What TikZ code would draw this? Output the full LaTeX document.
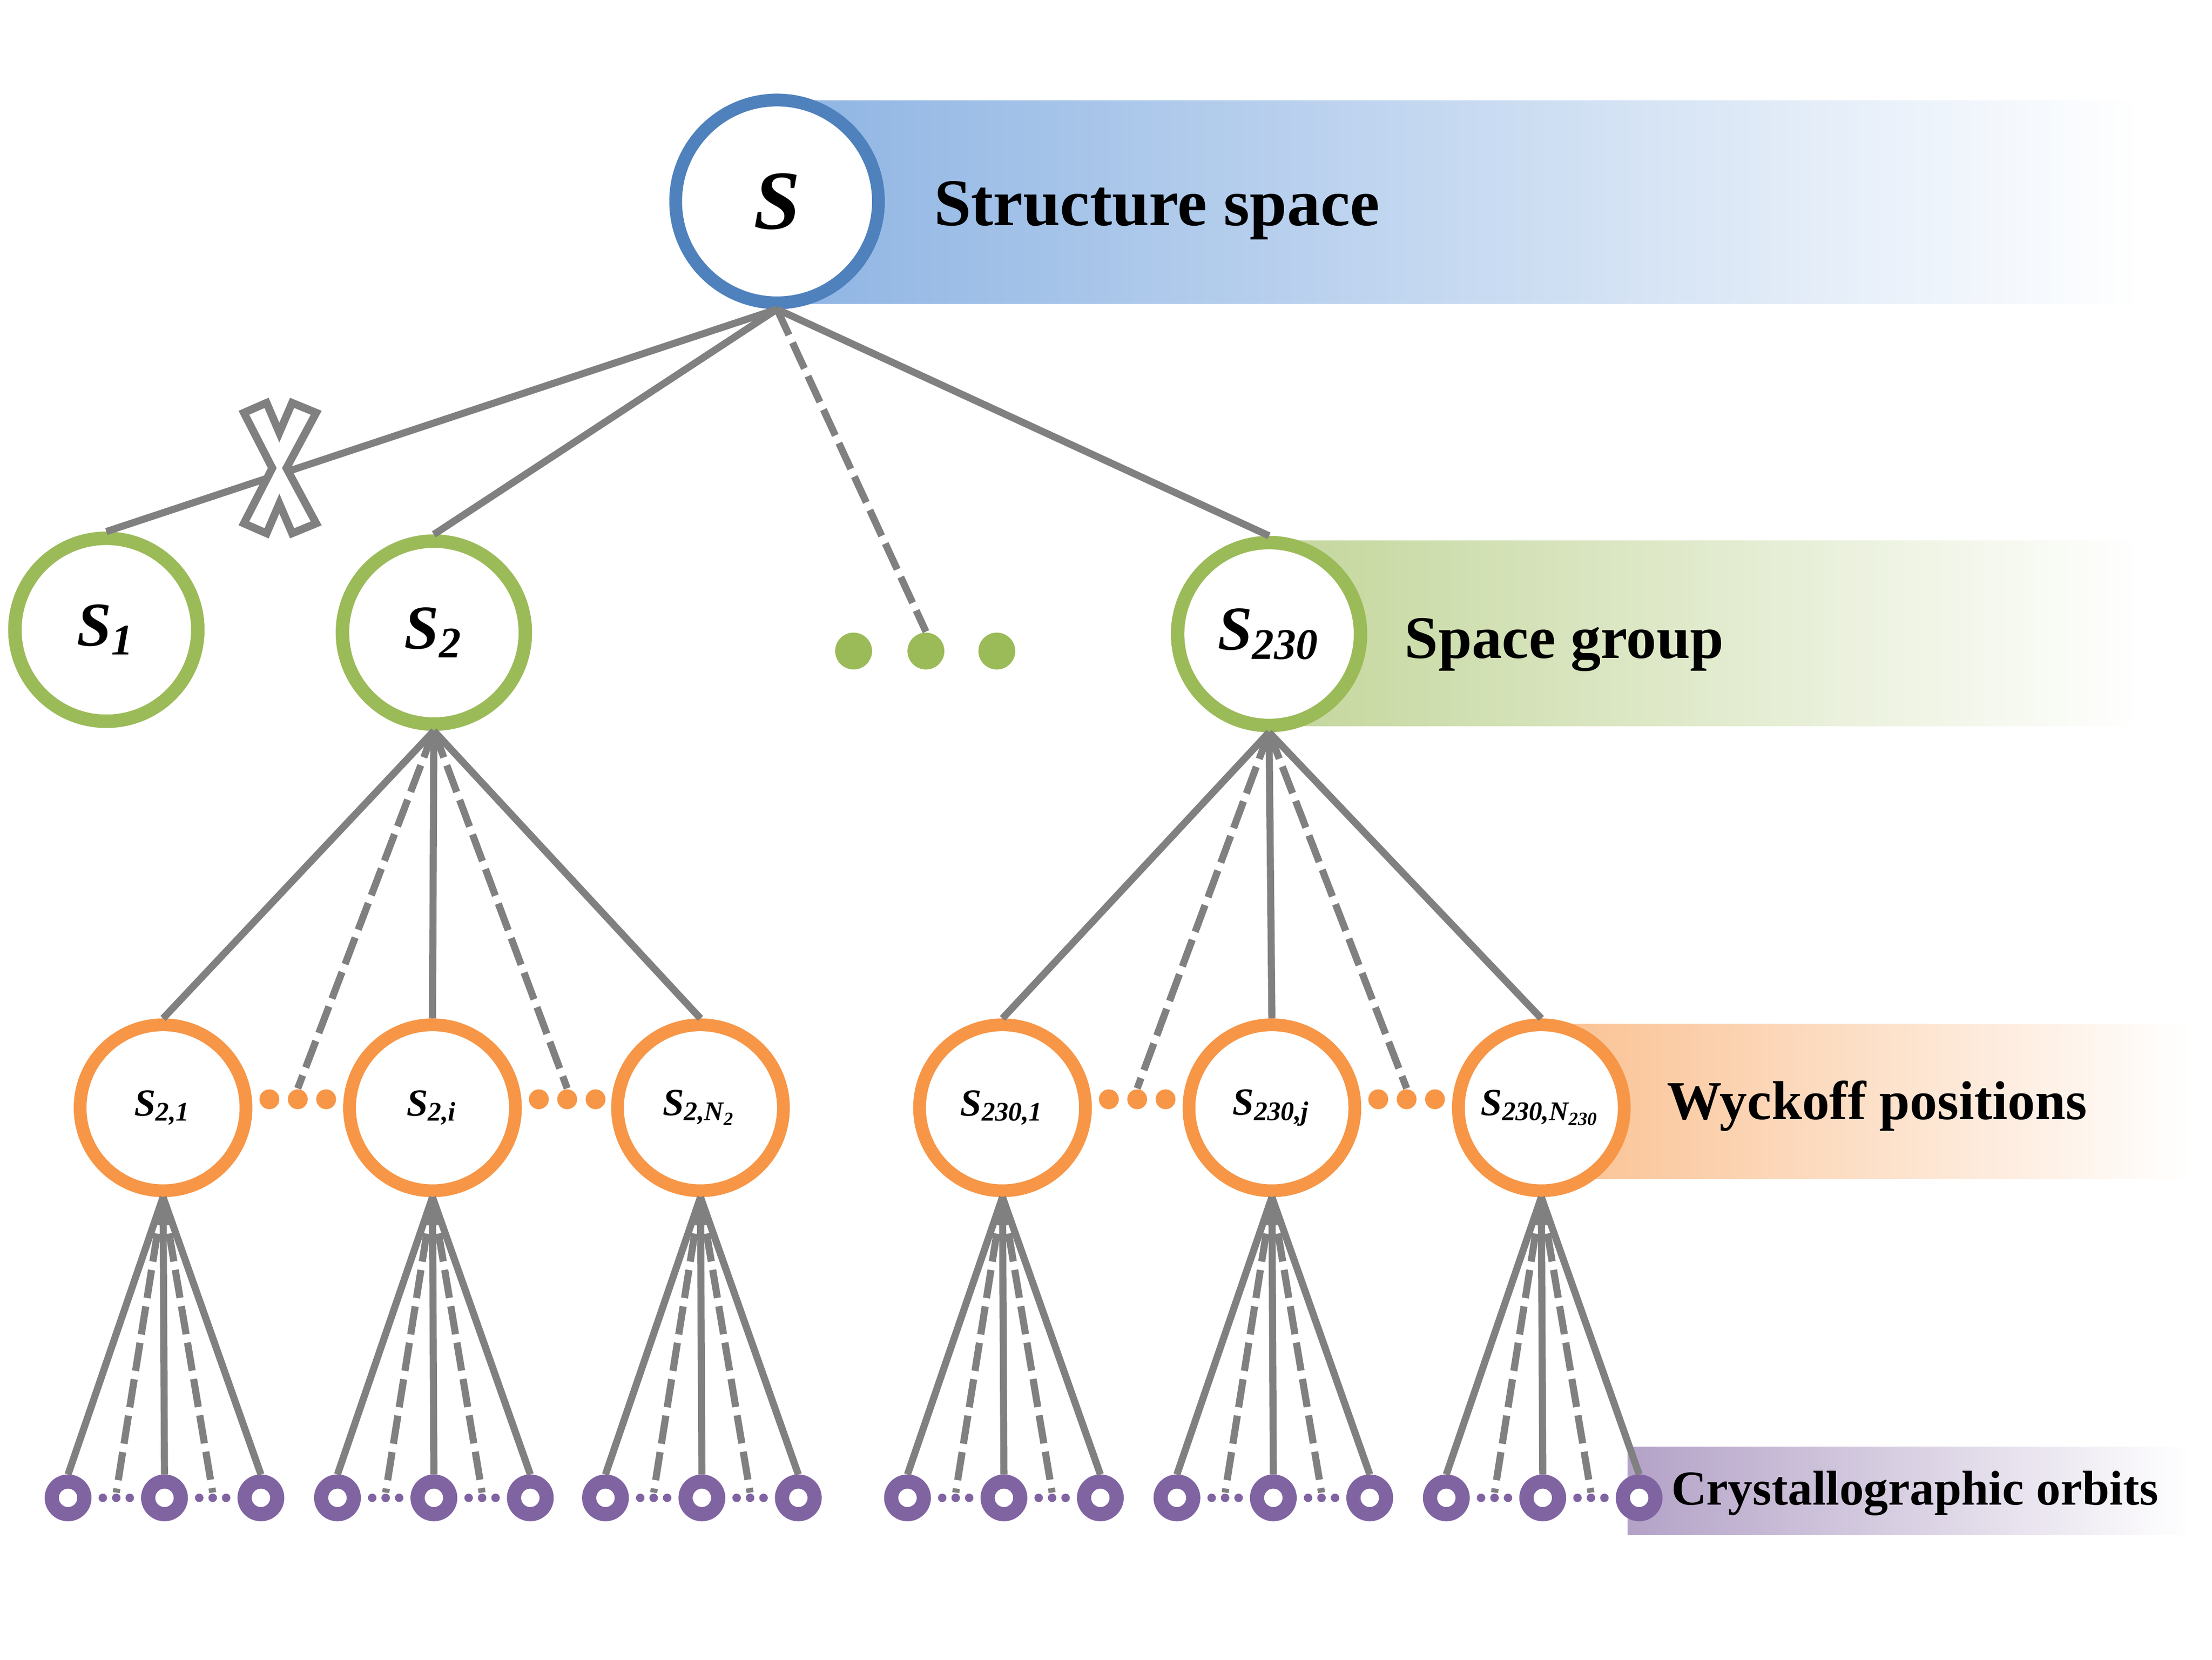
\documentclass[tikz,border=0pt]{standalone}
\usepackage{fontspec}
\setmainfont{Liberation Serif}
\usetikzlibrary{positioning}
\definecolor{structblue}{HTML}{4F81BD}
\definecolor{structband}{HTML}{8EB4E3}
\definecolor{groupgreen}{HTML}{9BBB59}
\definecolor{groupband}{HTML}{C3D69B}
\definecolor{wyckorange}{HTML}{F79646}
\definecolor{wyckband}{HTML}{FAC090}
\definecolor{orbitpurple}{HTML}{8064A2}
\definecolor{orbitband}{HTML}{B3A2C7}
\definecolor{linkgray}{HTML}{808080}

\begin{document}
\begin{tikzpicture}[
    x=0.1mm, y=-0.1mm,
    every node/.style={font=\bfseries},
    space/.style={circle, draw=structblue, line width=0.9mm, fill=white, minimum size=14.3mm, inner sep=0pt, font=\fontsize{16.8}{20}\selectfont\bfseries\itshape},
    group/.style={circle, draw=groupgreen, line width=0.95mm, fill=white, minimum size=12.9mm, inner sep=0pt, font=\fontsize{12.5}{15}\selectfont\bfseries\itshape},
    wyck/.style={circle, draw=wyckorange, line width=0.9mm, fill=white, minimum size=11.7mm, inner sep=0pt, font=\fontsize{7.7}{9}\selectfont\bfseries\itshape},
    orbit/.style={circle, draw=orbitpurple, line width=1mm, fill=white, minimum size=2.3mm, inner sep=0pt},
    gdot/.style={circle, fill=groupgreen, minimum size=2.6mm, inner sep=0pt},
    odot/.style={circle, fill=wyckorange, minimum size=1.4mm, inner sep=0pt},
    pdot/.style={circle, fill=orbitpurple, minimum size=0.6mm, inner sep=0pt},
    link/.style={draw=linkgray, line width=0.5mm},
    dlink/.style={link, dash pattern=on 2mm off 0.6mm},
    bandlabel/.style={anchor=base west, inner sep=0pt},
]
\useasboundingbox (0,0) rectangle (1560,1170);

% Bands
\shade[left color=structband, right color=white] (548,71) rectangle (1511,214);
\shade[left color=groupband, right color=white] (895,381) rectangle (1511,512);
\shade[left color=wyckband, right color=white] (1087,722) rectangle (1545,831);
\shade[left color=orbitband, right color=white] (1148,1020) rectangle (1545,1082);

% --- STRUCTURE SPACE ---
\node[space] (root) at (548,142) {S};
\node[bandlabel, font=\fontsize{13.4}{16}\selectfont\bfseries] (lbl_struct) at (658,159) {Structure space};

% --- SPACE GROUPS ---
\node[group] (s1) at (75,444) {S\textsubscript{1}};
\node[group] (s2) at (306,446) {S\textsubscript{2}};
\node[gdot] (gd1) at (602,459) {};
\node[gdot] (gd2) at (653,459) {};
\node[gdot] (gd3) at (703,459) {};
\node[group] (s230) at (895,447) {S\textsubscript{230}};
\node[bandlabel, font=\fontsize{12.1}{15}\selectfont\bfseries] (lbl_group) at (990,464) {Space group};

% --- WYCKOFF POSITIONS ---
\node[wyck] (w2_1) at (115,781) {S\textsubscript{2,1}};
\node[odot] (od1) at (190,775) {};
\node[odot] (od2) at (210,775) {};
\node[odot] (od3) at (230,775) {};
\node[wyck] (w2_i) at (305,781) {S\textsubscript{2,i}};
\node[odot] (od4) at (380,775) {};
\node[odot] (od5) at (400,775) {};
\node[odot] (od6) at (420,775) {};
\node[wyck] (w2_n) at (494,781) {S\textsubscript{2,N\textsubscript{2}}};

\node[wyck] (w230_1) at (707,781) {S\textsubscript{230,1}};
\node[odot] (od7) at (782,775) {};
\node[odot] (od8) at (802,775) {};
\node[odot] (od9) at (822,775) {};
\node[wyck] (w230_j) at (897,781) {S\textsubscript{230,j}};
\node[odot] (od10) at (972,775) {};
\node[odot] (od11) at (992,775) {};
\node[odot] (od12) at (1012,775) {};
\node[wyck] (w230_n) at (1087,781) {S\textsubscript{230,N\textsubscript{230}}};
\node[bandlabel, font=\fontsize{11}{13}\selectfont\bfseries] (lbl_wyck) at (1175,789) {Wyckoff positions};

% --- CRYSTALLOGRAPHIC ORBITS ---
\foreach \w/\x in {w2_1/115, w2_i/305, w2_n/494, w230_1/707, w230_j/897, w230_n/1087} {
    \node[orbit] (\w_a) at (\x-67,1056) {};
    \node[orbit] (\w_b) at (\x+1,1056) {};
    \node[orbit] (\w_c) at (\x+69,1056) {};
    \node[pdot] (\w_p1) at (\x-42.5,1056) {};
    \node[pdot] (\w_p2) at (\x-33,1056) {};
    \node[pdot] (\w_p3) at (\x-23.5,1056) {};
    \node[pdot] (\w_p4) at (\x+25.5,1056) {};
    \node[pdot] (\w_p5) at (\x+35,1056) {};
    \node[pdot] (\w_p6) at (\x+44.5,1056) {};
    \draw[link] (\w.south) -- (\w_a.north);
    \draw[dlink] (\w.south) -- (\w_p2.north);
    \draw[link] (\w.south) -- (\w_b.north);
    \draw[dlink] (\w.south) -- (\w_p5.north);
    \draw[link] (\w.south) -- (\w_c.north);
}
\node[bandlabel, font=\fontsize{9.8}{12}\selectfont\bfseries] (lbl_orbit) at (1178,1061) {Crystallographic orbits};

% Links from structure space
\draw[link] (root.south) -- (s1.north);
\draw[link] (root.south) -- (s2.north);
\draw[dlink] (root.south) -- (gd2.north);
\draw[link] (root.south) -- (s230.north);

% Links from space groups
\draw[link] (s2.south) -- (w2_1.north);
\draw[dlink] (s2.south) -- (od2.north);
\draw[link] (s2.south) -- (w2_i.north);
\draw[dlink] (s2.south) -- (od5.north);
\draw[link] (s2.south) -- (w2_n.north);

\draw[link] (s230.south) -- (w230_1.north);
\draw[dlink] (s230.south) -- (od8.north);
\draw[link] (s230.south) -- (w230_j.north);
\draw[dlink] (s230.south) -- (od11.north);
\draw[link] (s230.south) -- (w230_n.north);

% Cross mark on S_1 link
\draw[linkgray, line width=0.55mm, fill=white] (172,291) -- (188,284) -- (197,305) -- (206,284) -- (223,291) -- (202,330) -- (223,369) -- (206,376) -- (197,355) -- (188,376) -- (172,369) -- (192,330) -- cycle;

\end{tikzpicture}
\end{document}
